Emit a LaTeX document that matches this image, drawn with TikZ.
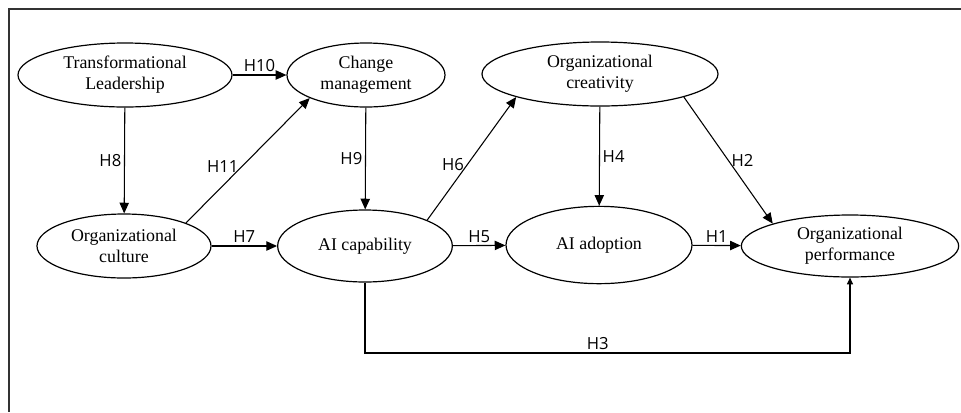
\documentclass[tikz,border=0pt]{standalone}
\usepackage{fontspec}
\setmainfont{Liberation Serif}
\newfontfamily\hypfont{Open Sans}
\usetikzlibrary{shapes.geometric, arrows.meta}

\begin{document}
\begin{tikzpicture}[x=0.75pt, y=-0.75pt,
    construct/.style={draw, ellipse, line width=0.9pt, inner sep=0pt, align=center,
        font=\fontsize{13.4pt}{15.8pt}\selectfont},
    arr/.style={-{Triangle[length=8pt, width=7pt]}, line width=0.8pt},
    hyp/.style={font=\hypfont\fontsize{12.5pt}{14pt}\selectfont, inner sep=2pt}]
    \useasboundingbox (0,0) rectangle (961,412);

    % Frame
    \draw[line width=1.6pt, black!80] (961,8.7) -- (8.7,8.7) -- (8.7,412);

    % Constructs
    \node[construct, minimum width=160.5pt, minimum height=48pt] (tl) at (125,75) {Transformational\\Leadership};
    \node[construct, minimum width=118.5pt, minimum height=48pt] (cm) at (366,75) {Change\\management};
    \node[construct, minimum width=177pt, minimum height=48pt] (ocr) at (600,74) {Organizational\\creativity};
    \node[construct, minimum width=130.5pt, minimum height=48pt] (ocu) at (124,246) {Organizational\\culture};
    \node[construct, minimum width=131pt, minimum height=54pt] (aic) at (365,246) {AI capability};
    \node[construct, minimum width=139.5pt, minimum height=58pt] (aia) at (599,245) {AI adoption};
    \node[construct, minimum width=163pt, minimum height=46.5pt] (op) at (850,246) {Organizational\\performance};

    % Hypotheses
    \draw[arr] (tl) -- node[hyp, above] {H10} (cm);
    \draw[arr] (tl) -- node[hyp, left] {H8} (ocu);
    \draw[arr] (ocu.north east) -- node[hyp, left, pos=0.45] {H11} (cm.south west);
    \draw[arr] (cm) -- node[hyp, left] {H9} (aic);
    \draw[arr] (ocu) -- node[hyp, above] {H7} (aic);
    \draw[arr] (aic.north east) -- node[hyp, left, pos=0.45] {H6} (ocr.south west);
    \draw[arr] (aic) -- node[hyp, above] {H5} (aia);
    \draw[arr] (ocr) -- node[hyp, right] {H4} (aia);
    \draw[arr] (ocr.south east) -- node[hyp, right, pos=0.5] {H2} (op.north west);
    \draw[arr] (aia) -- node[hyp, above] {H1} (op);

    % Direct path
    \coordinate (h3bend) at (850,353);
    \draw[-{Triangle[length=5pt, width=4.5pt]}, line width=0.8pt]
        (aic.south) |- node[hyp, above, pos=0.74] {H3} (h3bend) -- (op.south);
\end{tikzpicture}
\end{document}
